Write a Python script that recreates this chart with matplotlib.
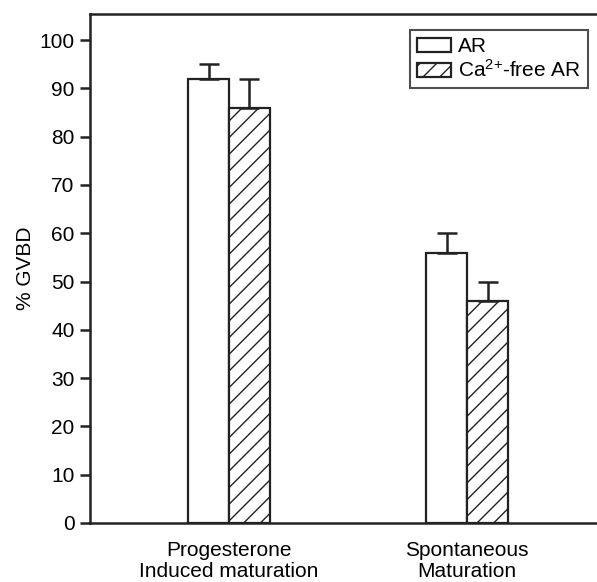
import matplotlib
matplotlib.use("Agg")
import matplotlib.pyplot as plt
import numpy as np

matplotlib.rcParams['font.family'] = ['Liberation Sans', 'DejaVu Sans']
matplotlib.rcParams['mathtext.fontset'] = 'custom'
matplotlib.rcParams['mathtext.rm'] = 'Liberation Sans'
matplotlib.rcParams['mathtext.it'] = 'Liberation Sans'
matplotlib.rcParams['hatch.linewidth'] = 1.0

# data
groups = ["Progesterone\nInduced maturation", "Spontaneous\nMaturation"]
ar = [92, 56]
ar_err = [3, 4]
ca_free = [86, 46]
ca_free_err = [6, 4]
series_labels = ["AR", "Ca$^{\\mathrm{2{+}}}$-free AR"]
yticks = [0, 10, 20, 30, 40, 50, 60, 70, 80, 90, 100]

fs = 15

fig = plt.figure(figsize=(5.97, 5.82), dpi=100)
ax = fig.add_axes([0.1508, 0.1014, 0.8492, 0.8737])

x = np.arange(len(groups))
w = 0.172
err_kw = dict(ecolor="#222222", elinewidth=1.8, capsize=7, capthick=1.8)

ax.bar(x - w / 2, ar, w, color="white", edgecolor="#222222", linewidth=1.6,
       yerr=[np.zeros(len(ar)), ar_err], error_kw=err_kw, label=series_labels[0])
ax.bar(x + w / 2, ca_free, w, color="white", edgecolor="#222222", linewidth=1.6,
       hatch="//", yerr=[np.zeros(len(ca_free)), ca_free_err], error_kw=err_kw,
       label=series_labels[1])

ax.set_xlim(-0.584, 1.546)
ax.set_ylim(0, 105.3)
ax.set_yticks(yticks)
ax.set_xticks(x)
ax.set_xticklabels(groups, fontsize=fs, linespacing=1.1)
ax.tick_params(axis="x", length=0, pad=13)
ax.tick_params(axis="y", length=7, width=1.8, labelsize=fs, pad=4, color="#222222")
ax.set_ylabel("% GVBD", fontsize=fs, labelpad=3)

for s in ["left", "bottom", "top"]:
    ax.spines[s].set_linewidth(1.8)
    ax.spines[s].set_color("#222222")
ax.spines["right"].set_visible(False)

leg = ax.legend(loc="upper right", bbox_to_anchor=(0.982, 0.97), fontsize=fs,
                frameon=True, fancybox=False, edgecolor="#222222",
                handlelength=1.65, handleheight=0.65, handletextpad=0.3,
                borderpad=0.35, labelspacing=0.15, borderaxespad=0)
leg.get_frame().set_linewidth(1.5)

plt.savefig("out.png", dpi=100)
